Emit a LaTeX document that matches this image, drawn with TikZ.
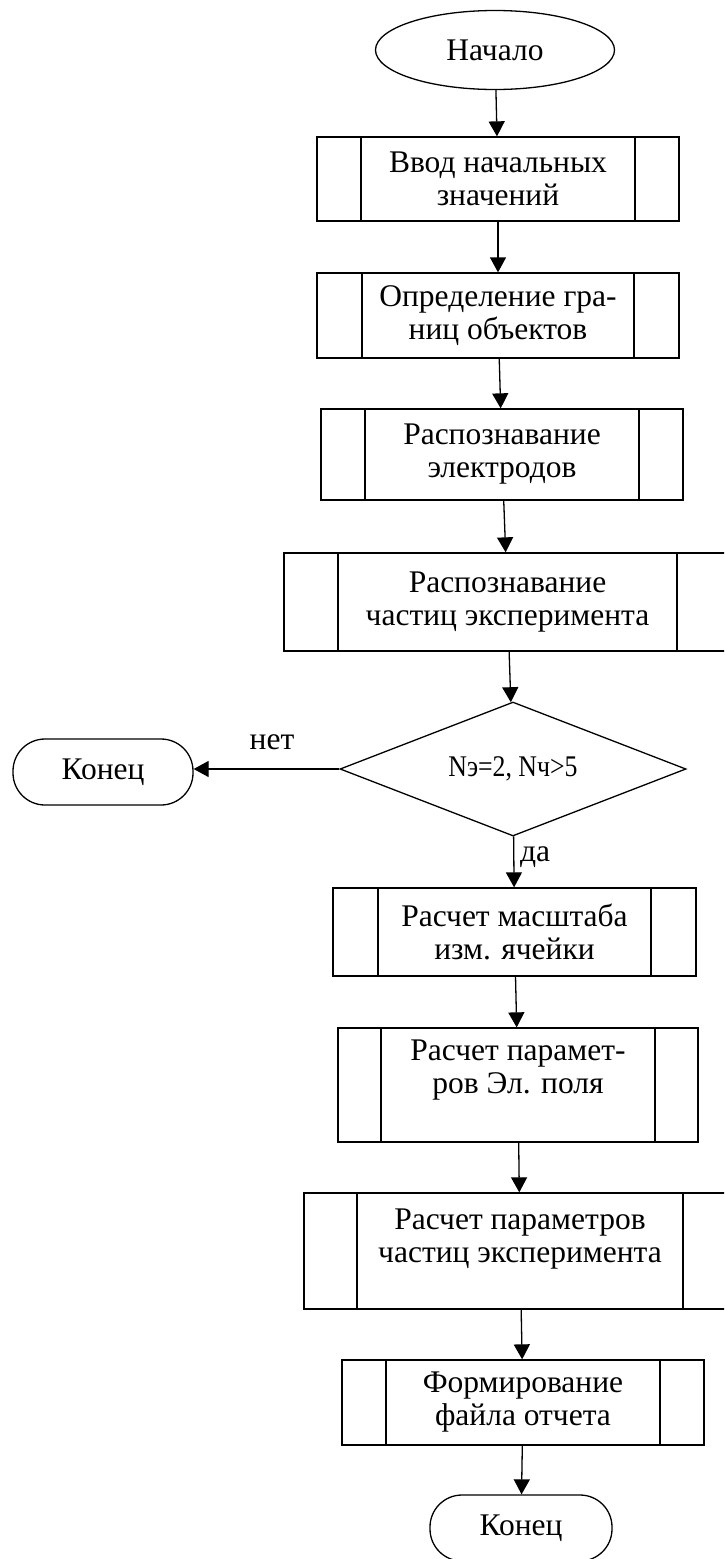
\documentclass[tikz,border=0pt]{standalone}
\usepackage{fontspec}
\usepackage{graphicx}
\setmainfont{Liberation Serif}
\usetikzlibrary{shapes.geometric,arrows.meta}
\begin{document}
\begin{tikzpicture}[x=1pt,y=-1pt,
  line width=1.3pt,
  every node/.style={font=\fontsize{31.5}{33}\selectfont, align=center, inner sep=0pt},
  predef/.style={draw, rectangle, path picture={
    \draw[line width=1.3pt] ([xshift=#1]path picture bounding box.north west) -- ([xshift=#1]path picture bounding box.south west)
      ([xshift=-#1]path picture bounding box.north east) -- ([xshift=-#1]path picture bounding box.south east);}},
  arr/.style={-{Triangle[length=15pt,width=16pt]}},
  term/.style={draw, rectangle, rounded corners=32pt, minimum width=180pt, minimum height=66pt},
  lbl/.style={font=\fontsize{31.5}{33}\selectfont},
]
\useasboundingbox (0,0) rectangle (724,1559);
\clip (0,0) rectangle (724,1559);
\fill[white] (0,0) rectangle (724,1559);

\node[draw, ellipse, minimum width=239pt, minimum height=79pt] (start) at (495,50) {Начало};
\node[predef=44pt, minimum width=362pt, minimum height=84pt] (b1) at (498,179) {Ввод начальных\\значений};
\node[predef=45pt, minimum width=362pt, minimum height=85pt] (b2) at (498,315.5) {Определение гра-\\ниц объектов};
\node[predef=44pt, minimum width=362pt, minimum height=91pt] (b3) at (502,454.5) {Распознавание\\электродов};
\node[predef=54pt, minimum width=447pt, minimum height=98pt] (b4) at (507.5,602) {Распознавание\\частиц эксперимента};
\node[draw, diamond, aspect=2.58, minimum width=346pt, minimum height=134pt] (dia) at (513,769)
  {\fontsize{30}{30}\selectfont\scalebox{0.86}[1]{Nэ=2, Nч>5}};
\node[term] (stop) at (103,772) {Конец};
\node[predef=45pt, minimum width=363pt, minimum height=88pt] (b5) at (514.5,932) {Расчет масштаба\\изм. ячейки};
\node[predef=43pt, minimum width=360pt, minimum height=114pt] (b6) at (518,1085) {Расчет парамет-\\ров Эл. поля\\[-6pt]\strut};
\node[predef=53pt, minimum width=432pt, minimum height=116pt] (b7) at (520,1251) {Расчет параметров\\частиц эксперимента\\[-12pt]\strut};
\node[predef=44pt, minimum width=362pt, minimum height=85pt] (b8) at (523,1402.5) {Формирование\\файла отчета};
\node[term, minimum width=182pt] (end) at (521,1528) {Конец};

\node[lbl] (no) at (272,742) {нет};
\node[lbl] (yes) at (535,857) {да};

\draw[arr] (start) -- (b1);
\draw[arr] (b1) -- (b2);
\draw[arr] (b2) -- (b3);
\draw[arr] (b3) -- (b4);
\draw[arr] (b4) -- (dia);
\draw[arr] (dia) -- (b5);
\draw[arr] (dia.west) -- (dia.west -| stop.east);
\draw[arr] (b5) -- (b6);
\draw[arr] (b6) -- (b7);
\draw[arr] (b7) -- (b8);
\draw[arr] (b8) -- (end);
\end{tikzpicture}
\end{document}
